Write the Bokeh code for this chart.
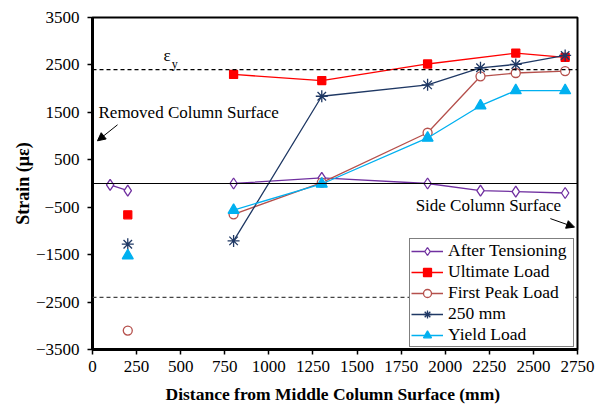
import math
from bokeh.plotting import figure
from bokeh.models import (Range1d, FixedTicker, Span, Label, Arrow, NormalHead,
                          Legend, LegendItem)
from bokeh.embed import file_html
from bokeh.resources import INLINE

nan = math.nan

# ---- data ----
distance = [100, 200, 800, 1300, 1900, 2200, 2400, 2680]
after_tensioning = [-30, -150, 0, 120, 0, -150, -170, -200]
ultimate_load = [nan, -660, 2300, 2170, 2520, nan, 2750, 2660]
first_peak_load = [nan, -3100, -650, 20, 1070, 2260, 2330, 2370]
load_250mm = [nan, -1280, -1210, 1840, 2080, 2440, 2510, 2700]
yield_load = [nan, -1520, -560, -10, 960, 1640, 1960, 1960]

yield_strain = 2400
x_ticks = [0, 250, 500, 750, 1000, 1250, 1500, 1750, 2000, 2250, 2500, 2750]
y_ticks = [-3500, -2500, -1500, -500, 500, 1500, 2500, 3500]

FONT = "'Liberation Serif', 'Times New Roman', serif"

p = figure(width=595, height=406, output_backend="svg", toolbar_location=None,
           x_range=Range1d(0, 2750), y_range=Range1d(-3500, 3500),
           min_border_left=92, min_border_right=18, min_border_top=17,
           min_border_bottom=57)
p.xgrid.visible = False
p.ygrid.visible = False
p.outline_line_color = "black"
p.outline_line_width = 2
p.background_fill_color = "white"
p.border_fill_color = "white"

for ax in (p.xaxis[0], p.yaxis[0]):
    ax.axis_line_width = 3
    ax.axis_line_color = "black"
    ax.major_tick_in = 0
    ax.major_tick_out = 5
    ax.major_tick_line_width = 1.5
    ax.minor_tick_line_color = None
    ax.major_label_text_font = FONT
    ax.major_label_text_font_size = "17px"
    ax.major_label_text_color = "black"
    ax.axis_label_text_font = FONT
    ax.axis_label_text_font_size = "17.5px"
    ax.axis_label_text_font_style = "bold"
    ax.axis_label_text_color = "black"

p.xaxis.ticker = FixedTicker(ticks=x_ticks)
p.yaxis.ticker = FixedTicker(ticks=y_ticks)
p.xaxis.axis_label = "Distance from Middle Column Surface  (mm)"
p.yaxis.axis_label = "Strain (με)"
p.yaxis.axis_label_text_font_size = "18px"
p.xaxis.major_label_standoff = 6
p.yaxis.major_label_standoff = 8
p.xaxis.axis_label_standoff = 9
p.yaxis.axis_label_standoff = 0

# reference lines
p.add_layout(Span(location=0, dimension="width", line_color="black", line_width=1))
p.add_layout(Span(location=yield_strain, dimension="width", line_color="black",
                  line_width=1.2, line_dash="4 3"))
p.add_layout(Span(location=-yield_strain, dimension="width", line_color="#444444",
                  line_width=1.2, line_dash="4 3"))

series = [
    ("After Tensioning", after_tensioning, "#7030A0", "diamond", 11, "white"),
    ("Ultimate Load", ultimate_load, "#FF0000", "square", 8, "#FF0000"),
    ("First Peak Load", first_peak_load, "#B5504C", "circle", 9, "white"),
    ("250 mm", load_250mm, "#1F3864", "asterisk", 12, None),
    ("Yield Load", yield_load, "#00B0F0", "triangle", 11, "#00B0F0"),
]

items = []
for name, ys, color, marker, size, fill in series:
    rends = []
    for seg in (slice(0, 2), slice(2, None)):
        pts = [(x, y) for x, y in zip(distance[seg], ys[seg]) if not math.isnan(y)]
        xs_s = [a for a, _ in pts]
        ys_s = [b for _, b in pts]
        r = p.line(xs_s, ys_s, line_color=color, line_width=1.3)
        rends.append(r)
    kw = dict(marker=marker, size=size, line_color=color, line_width=1.3)
    kw["fill_color"] = fill
    s = p.scatter(distance, ys, **kw)
    items.append(LegendItem(label=name, renderers=[rends[1], s]))

legend = Legend(items=items, location=(317, 2), padding=1, spacing=0,
                label_height=20, glyph_height=20, glyph_width=32,
                label_standoff=5, label_width=124, margin=0,
                label_text_font=FONT, label_text_font_size="17.5px",
                label_text_color="black",
                border_line_color="black", border_line_width=1.2,
                background_fill_color="white", background_fill_alpha=1)
p.add_layout(legend, "center")

# annotations
p.add_layout(Label(x=402, y=2694, text="ε", text_font=FONT, text_font_size="17px",
                   text_baseline="middle", text_color="black"))
p.add_layout(Label(x=450, y=2520, text="y", text_font=FONT, text_font_size="12px",
                   text_baseline="middle", text_color="black"))
p.add_layout(Label(x=34, y=1490, text="Removed  Column  Surface", text_font=FONT,
                   text_font_size="17px", text_baseline="middle", text_color="black"))
p.add_layout(Label(x=2705, y=-470, text="Side  Column  Surface", text_font=FONT,
                   text_font_size="17px", text_baseline="middle", text_align="right",
                   text_color="black"))
p.add_layout(Arrow(x_start=142, y_start=1238, x_end=28, y_end=900,
                   line_color="black", line_width=1,
                   end=NormalHead(size=8, fill_color="black", line_color="black")))
p.add_layout(Arrow(x_start=2596, y_start=-740, x_end=2733, y_end=-920,
                   line_color="black", line_width=1,
                   end=NormalHead(size=8, fill_color="black", line_color="black")))

open("out.html", "w").write(file_html(p, INLINE))
